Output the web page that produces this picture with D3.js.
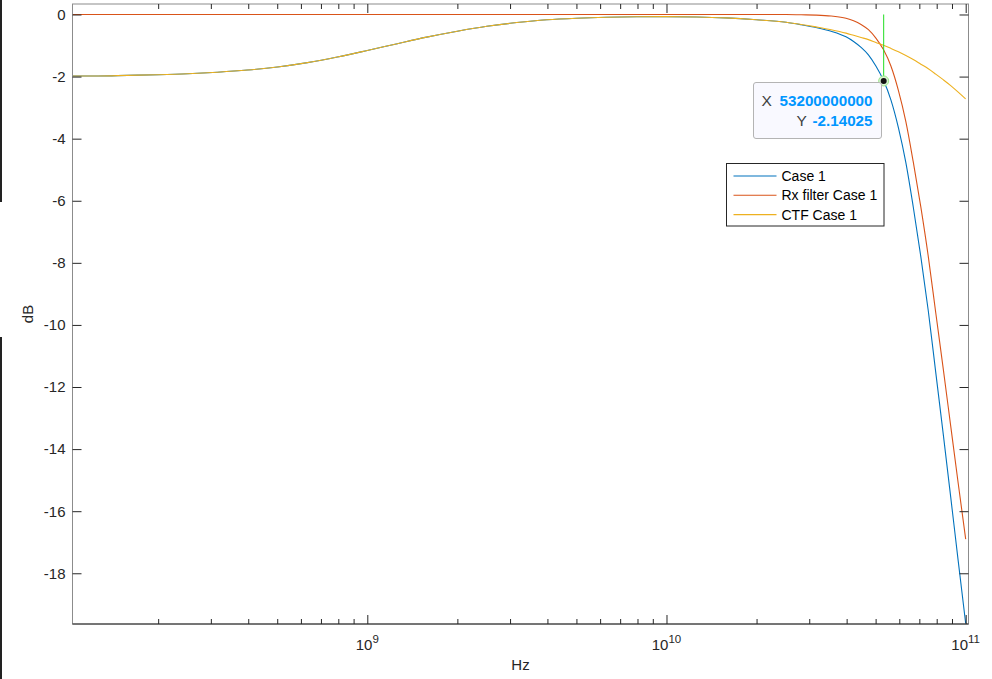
<!DOCTYPE html>
<html>
<head>
<meta charset="utf-8">
<script src="https://cdn.jsdelivr.net/npm/d3@7"></script>
<style>
  body { margin: 0; background: #fff; }
  svg { display: block; font-family: "Liberation Sans", Arial, sans-serif; }
</style>
</head>
<body>
<svg id="chart" width="992" height="679"></svg>
<script>
// frequency points (Hz)
const freqs = [1.00e8, 1.26e8, 1.58e8, 2.00e8, 2.51e8, 3.16e8, 3.98e8, 5.01e8, 6.31e8, 7.94e8,
  1.00e9, 1.26e9, 1.58e9, 2.00e9, 2.51e9, 3.16e9, 3.98e9, 5.01e9, 6.31e9, 7.94e9,
  1.00e10, 1.26e10, 1.58e10, 2.00e10, 2.51e10,
  2.82e10, 3.16e10, 3.55e10, 3.98e10, 4.22e10, 4.47e10, 4.73e10, 5.01e10, 5.31e10, 5.62e10,
  5.96e10, 6.31e10, 6.68e10, 7.08e10, 7.50e10, 7.94e10, 8.41e10, 8.91e10, 9.44e10, 1.00e11];

// dB values
const case1 = [-1.98, -1.98, -1.96, -1.94, -1.91, -1.86, -1.79, -1.69, -1.55, -1.37,
  -1.16, -0.94, -0.73, -0.54, -0.38, -0.26, -0.17, -0.12, -0.09, -0.075,
  -0.07, -0.08, -0.11, -0.17, -0.25,
  -0.33, -0.42, -0.54, -0.72, -0.87, -1.06, -1.30, -1.66, -2.12, -2.74,
  -3.65, -4.77, -6.20, -7.80, -9.55, -11.52, -13.50, -15.54, -17.60, -19.62];

const rxFilter = [0, 0, 0, 0, 0, 0, 0, 0, 0, 0,
  0, 0, 0, 0, 0, 0, 0, 0, 0, 0,
  0, 0, 0, 0, 0,
  -0.01, -0.02, -0.05, -0.12, -0.20, -0.32, -0.49, -0.76, -1.13, -1.65,
  -2.45, -3.45, -4.75, -6.20, -7.80, -9.60, -11.40, -13.25, -15.10, -16.90];

const ctf = [-1.98, -1.98, -1.96, -1.94, -1.91, -1.86, -1.79, -1.69, -1.55, -1.37,
  -1.16, -0.94, -0.73, -0.54, -0.38, -0.26, -0.17, -0.12, -0.09, -0.075,
  -0.07, -0.08, -0.11, -0.17, -0.25,
  -0.32, -0.40, -0.49, -0.60, -0.67, -0.74, -0.81, -0.90, -0.99, -1.09,
  -1.20, -1.32, -1.45, -1.60, -1.75, -1.92, -2.10, -2.29, -2.50, -2.72];

const seriesNames = ["Case 1", "Rx filter Case 1", "CTF Case 1"];
const seriesColors = ["#0072BD", "#D95319", "#EDB120"];

const yTicks = [0, -2, -4, -6, -8, -10, -12, -14, -16, -18];
const xMajor = [1e9, 1e10, 1e11];
const xMajorExp = ["9", "10", "11"];

// data tip
const tipX = 53200000000;
const tipY = -2.14025;

const svg = d3.select("#chart");
const W = 992, H = 679;
const plot = { left: 72.5, right: 968.5, top: 4, bottom: 624 };

svg.append("rect").attr("width", W).attr("height", H).attr("fill", "#fff");

// stray window edge on the left
svg.append("rect").attr("x", 0).attr("y", 0).attr("width", 2).attr("height", 202).attr("fill", "#222");
svg.append("rect").attr("x", 0).attr("y", 337).attr("width", 2).attr("height", H - 337).attr("fill", "#222");

const x = d3.scaleLog().domain([Math.pow(10, 8.0147), Math.pow(10, 11.0094)]).range([plot.left, plot.right]);
const y = d3.scaleLinear().domain([-19.634, 0.338]).range([plot.bottom, plot.top]);

// minor ticks 2..9 per decade
let xMinor = [];
[1e8, 1e9, 1e10].forEach(d => { for (let m = 2; m <= 9; m++) xMinor.push(d * m); });

svg.append("clipPath").attr("id", "clip")
  .append("rect")
  .attr("x", plot.left).attr("y", plot.top)
  .attr("width", plot.right - plot.left).attr("height", plot.bottom - plot.top);

const line = d3.line()
  .x(d => x(d[0]))
  .y(d => y(d[1]))
  .curve(d3.curveMonotoneX);

const g = svg.append("g").attr("clip-path", "url(#clip)");
[case1, rxFilter, ctf].forEach((vals, i) => {
  g.append("path")
    .datum(freqs.map((f, j) => [f, vals[j]]))
    .attr("fill", "none")
    .attr("stroke", seriesColors[i])
    .attr("stroke-width", 1.1)
    .attr("d", line);
});

// frame
svg.append("rect")
  .attr("x", plot.left).attr("y", plot.top)
  .attr("width", plot.right - plot.left).attr("height", plot.bottom - plot.top)
  .attr("fill", "none").attr("stroke", "#8c8c8c");
svg.append("line")
  .attr("x1", plot.left).attr("x2", plot.right)
  .attr("y1", plot.bottom).attr("y2", plot.bottom)
  .attr("stroke", "#262626");

function styleAxis(sel) {
  sel.select(".domain").remove();
  sel.selectAll(".tick line").attr("stroke", "#262626");
}

// x axes (bottom and top)
svg.append("g").attr("transform", `translate(0,${plot.bottom})`)
  .call(d3.axisBottom(x).tickValues(xMajor).tickSizeInner(-9).tickSizeOuter(0).tickFormat(""))
  .call(styleAxis);
svg.append("g").attr("transform", `translate(0,${plot.bottom})`)
  .call(d3.axisBottom(x).tickValues(xMinor).tickSizeInner(-5).tickSizeOuter(0).tickFormat(""))
  .call(styleAxis);
svg.append("g").attr("transform", `translate(0,${plot.top})`)
  .call(d3.axisTop(x).tickValues(xMajor).tickSizeInner(-9).tickSizeOuter(0).tickFormat(""))
  .call(styleAxis);
svg.append("g").attr("transform", `translate(0,${plot.top})`)
  .call(d3.axisTop(x).tickValues(xMinor).tickSizeInner(-5).tickSizeOuter(0).tickFormat(""))
  .call(styleAxis);

// x tick labels 10^n
xMajor.forEach((v, i) => {
  const t = svg.append("text")
    .attr("x", x(v)).attr("y", 650)
    .attr("text-anchor", "middle")
    .attr("fill", "#262626")
    .attr("font-size", 15);
  t.append("tspan").text("10");
  t.append("tspan").attr("dy", -7).attr("font-size", 11.5).text(xMajorExp[i]);
});

// y axes (left and right)
svg.append("g").attr("transform", `translate(${plot.left},0)`)
  .call(d3.axisLeft(y).tickValues(yTicks).tickSizeInner(-9).tickSizeOuter(0).tickPadding(7)
    .tickFormat(d => String(d)))
  .call(styleAxis)
  .selectAll("text")
  .attr("font-size", 15)
  .attr("font-family", "Liberation Sans, Arial, sans-serif")
  .attr("fill", "#262626");
svg.append("g").attr("transform", `translate(${plot.right},0)`)
  .call(d3.axisRight(y).tickValues(yTicks).tickSizeInner(-9).tickSizeOuter(0).tickFormat(""))
  .call(styleAxis);

// axis labels
svg.append("text")
  .attr("x", (plot.left + plot.right) / 2).attr("y", 670)
  .attr("text-anchor", "middle").attr("font-size", 15).attr("fill", "#262626")
  .text("Hz");
svg.append("text")
  .attr("transform", `translate(33,${(plot.top + plot.bottom) / 2}) rotate(-90)`)
  .attr("text-anchor", "middle").attr("font-size", 15).attr("fill", "#262626")
  .text("dB");

// data tip
svg.append("line")
  .attr("x1", x(tipX)).attr("x2", x(tipX))
  .attr("y1", y(0)).attr("y2", y(tipY))
  .attr("stroke", "#22dd22").attr("stroke-width", 1);
svg.append("circle")
  .attr("cx", x(tipX)).attr("cy", y(tipY)).attr("r", 5)
  .attr("fill", "#d8f5d0").attr("stroke", "#9be58a").attr("stroke-width", 1);
svg.append("circle")
  .attr("cx", x(tipX)).attr("cy", y(tipY)).attr("r", 3)
  .attr("fill", "#111");

const tip = svg.append("g");
tip.append("rect")
  .attr("x", 753.5).attr("y", 82.5).attr("width", 128).attr("height", 56).attr("rx", 2.5)
  .attr("fill", "#f9f9ff").attr("stroke", "#b4b4b4");
[["X", String(tipX), 106, 761.5], ["Y", String(tipY), 126, 796.5]].forEach(r => {
  tip.append("text")
    .attr("x", r[3]).attr("y", r[2])
    .attr("font-size", 15.5).attr("fill", "#404040")
    .text(r[0]);
  tip.append("text")
    .attr("x", 872.5).attr("y", r[2])
    .attr("text-anchor", "end").attr("font-size", 15.2)
    .attr("fill", "#0096FF").attr("font-weight", "bold")
    .text(r[1]);
});

// legend
const legend = svg.append("g").attr("transform", "translate(726.5,163.5)");
legend.append("rect")
  .attr("width", 157.5).attr("height", 62.5)
  .attr("fill", "#fff").attr("stroke", "#262626");
seriesNames.forEach((name, i) => {
  const yy = 12.5 + i * 19.3;
  legend.append("line")
    .attr("x1", 7).attr("x2", 50)
    .attr("y1", yy).attr("y2", yy)
    .attr("stroke", seriesColors[i]).attr("stroke-width", 1.1);
  legend.append("text")
    .attr("x", 55).attr("y", yy + 5)
    .attr("font-size", 14).attr("fill", "#000")
    .text(name);
});
</script>
</body>
</html>
